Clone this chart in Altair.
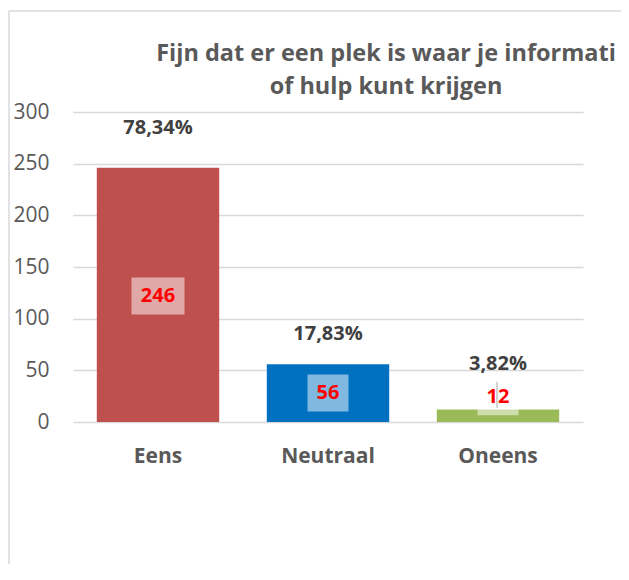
import altair as alt
import pandas as pd

categories = ["Eens", "Neutraal", "Oneens"]
counts = [246, 56, 12]
percent_labels = ["78,34%", "17,83%", "3,82%"]
bar_colors = ["#C0504D", "#0070C0", "#9BBB59"]
y_ticks = [0, 50, 100, 150, 200, 250, 300]
title_lines = ["Fijn dat er een plek is waar je informati", "of hulp kunt krijgen"]

df = pd.DataFrame({"cat": categories, "n": counts, "pct": percent_labels, "color": bar_colors})

FONT = "Open Sans"
W, H = 510, 310

# per-category label styling (pixel offsets / box widths)
pct_dy = {"Eens": -40, "Neutraal": -30, "Oneens": -46}
val_dy = {"Eens": 1, "Neutraal": 0, "Oneens": -19}
box_w = {"Eens": 53, "Neutraal": 41, "Oneens": 41}
BOX_H = 37

xscale = alt.Scale(domain=categories, paddingInner=0.28, paddingOuter=0.14)
yscale = alt.Scale(domain=[0, 300], nice=False)

xaxis = alt.Axis(title=None, labelFont=FONT, labelFontSize=21, labelFontWeight="bold",
                 labelColor="#595959", labelPadding=23, ticks=False, domain=False,
                 labelAngle=0, grid=False)
yaxis = alt.Axis(values=y_ticks, title=None, labelFont=FONT, labelFontSize=21,
                 labelColor="#595959", labelPadding=24, ticks=False, domain=False,
                 gridColor="#D9D9D9", gridWidth=1.5)


def xe():
    return alt.X("cat:N", sort=categories, scale=xscale, axis=xaxis)


def ye(field):
    return alt.Y(field, scale=yscale, axis=yaxis)


base = alt.Chart(df).transform_calculate(mid="datum.n / 2")
one = alt.Chart(pd.DataFrame({"a": [0]}))

frame_left = one.mark_rule(color="#D9D9D9", strokeWidth=1.5).encode(
    x=alt.value(-64), y=alt.value(-101), y2=alt.value(700))
frame_top = one.mark_rule(color="#D9D9D9", strokeWidth=1.5).encode(
    x=alt.value(-64), x2=alt.value(700), y=alt.value(-101))

bars = base.mark_bar().encode(
    x=xe(), y=ye("n:Q"), color=alt.Color("color:N", scale=None),
)

layers = [frame_left, frame_top, bars]
for c in categories:
    sub = base.transform_filter(alt.datum.cat == c)
    box = sub.mark_bar(
        width=box_w[c], color="white", opacity=0.5,
        yOffset=val_dy[c] - BOX_H / 2, y2Offset=val_dy[c] + BOX_H / 2
    ).encode(x=xe(), y=ye("mid:Q"), y2="mid:Q")
    val = sub.mark_text(
        font=FONT, fontSize=20, fontWeight="bold", color="#FF0000", baseline="middle", dy=val_dy[c]
    ).encode(x=xe(), y=ye("mid:Q"), text="n:Q")
    pct = sub.mark_text(
        font=FONT, fontSize=20, fontWeight="bold", color="#404040", baseline="middle", dy=pct_dy[c]
    ).encode(x=xe(), y=ye("n:Q"), text="pct:N")
    layers += [box, val, pct]

cursor = base.transform_filter(alt.datum.cat == "Oneens").mark_rule(
    color="#A6A6A6", strokeWidth=1, yOffset=-34, y2Offset=-8, xOffset=-1
).encode(x=alt.X("cat:N", sort=categories, scale=xscale, axis=xaxis, bandPosition=0.5),
         y=ye("mid:Q"), y2="mid:Q")
layers.append(cursor)

chart = alt.layer(*layers).properties(
    width=W, height=H,
    background="white",
    title=alt.TitleParams(text=title_lines, anchor="middle", frame="group", dx=58, font=FONT,
                          fontSize=23.5, fontWeight="bold", color="#595959", lineHeight=33,
                          offset=-88),
    autosize=alt.AutoSizeParams(type="none"),
    padding={"left": 65, "top": 104, "right": 38, "bottom": 142},
).configure_view(strokeWidth=0, stroke="transparent")

chart.save("out.html", embed_options={"renderer": "svg", "actions": False})
